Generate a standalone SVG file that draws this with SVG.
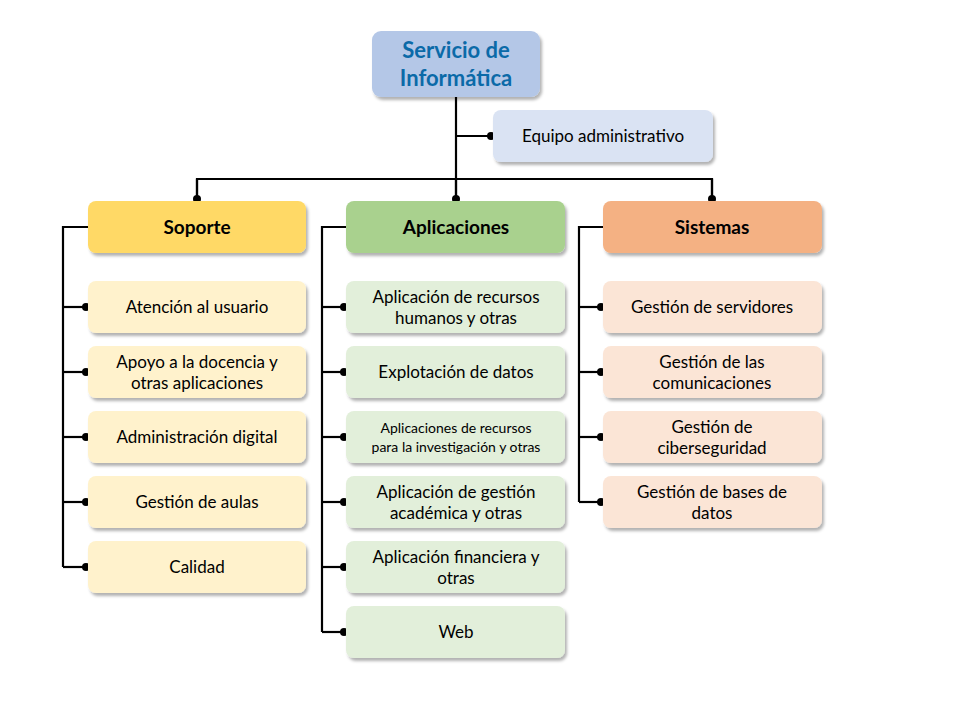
<svg xmlns="http://www.w3.org/2000/svg" width="960" height="720" viewBox="0 0 960 720">
<defs>
<filter id="sh" x="-10%" y="-10%" width="130%" height="140%"><feDropShadow dx="2" dy="3" stdDeviation="1.5" flood-color="#000" flood-opacity="0.3"/></filter>
<marker id="dot" viewBox="0 0 10 10" refX="5" refY="5" markerWidth="10" markerHeight="10" markerUnits="userSpaceOnUse"><circle cx="5" cy="5" r="4" fill="#000"/></marker>
</defs>
<style>
rect{filter:url(#sh)}
text{font-family:Lato,"Noto Sans",sans-serif;font-size:17px;fill:#000;text-anchor:middle}
.h{font-weight:bold;font-size:19px}
.t{font-weight:bold;font-size:22px;fill:#0b6aa8}
.c path{fill:none;stroke:#000;stroke-width:2.2}
.y rect{fill:#fff2cc}.g rect{fill:#e2efda}.o rect{fill:#fbe5d6}
</style>
<rect width="960" height="720" fill="#fff" style="filter:none"/>
<g class="c">
<path d="M456 97V199"/>
<path d="M456 136H491" marker-end="url(#dot)"/>
<path d="M197 199V179H712V199"/>
<path d="M197 179V199" marker-end="url(#dot)"/>
<path d="M712 179V199" marker-end="url(#dot)"/>
<path d="M456 180V199" marker-end="url(#dot)"/>
<path d="M88 227H63V567"/>
<path d="M346 227H322V632"/>
<path d="M603 227H579V502"/>
<path d="M63 307H86" marker-end="url(#dot)"/><path d="M63 372H86" marker-end="url(#dot)"/><path d="M63 437H86" marker-end="url(#dot)"/><path d="M63 502H86" marker-end="url(#dot)"/><path d="M63 567H86" marker-end="url(#dot)"/>
<path d="M322 307H344" marker-end="url(#dot)"/><path d="M322 372H344" marker-end="url(#dot)"/><path d="M322 437H344" marker-end="url(#dot)"/><path d="M322 502H344" marker-end="url(#dot)"/><path d="M322 567H344" marker-end="url(#dot)"/><path d="M322 632H344" marker-end="url(#dot)"/>
<path d="M579 307H601" marker-end="url(#dot)"/><path d="M579 372H601" marker-end="url(#dot)"/><path d="M579 437H601" marker-end="url(#dot)"/><path d="M579 502H601" marker-end="url(#dot)"/>
</g>
<g id="root"><rect x="372" y="31" width="168" height="66" rx="9" fill="#b4c7e7"/><text class="t" x="456" y="58">Servicio de</text><text class="t" x="456" y="86">Informática</text></g>
<g id="equipo"><rect x="493" y="110" width="220" height="52" rx="8" fill="#dae3f3"/><text x="603" y="142">Equipo administrativo</text></g>
<g id="soporte"><rect x="88" y="201" width="218" height="52" rx="8" fill="#ffd966"/><text class="h" x="197" y="234">Soporte</text></g>
<g id="aplicaciones"><rect x="346" y="201" width="219" height="52" rx="8" fill="#a9d18e"/><text class="h" x="456" y="234">Aplicaciones</text></g>
<g id="sistemas"><rect x="603" y="201" width="219" height="52" rx="8" fill="#f4b183"/><text class="h" x="712" y="234">Sistemas</text></g>
<g class="y">
<g id="s1"><rect x="88" y="281" width="218" height="52" rx="8"/><text x="197" y="313">Atención al usuario</text></g>
<g id="s2"><rect x="88" y="346" width="218" height="52" rx="8"/><text x="197" y="368">Apoyo a la docencia y</text><text x="197" y="389">otras aplicaciones</text></g>
<g id="s3"><rect x="88" y="411" width="218" height="52" rx="8"/><text x="197" y="443">Administración digital</text></g>
<g id="s4"><rect x="88" y="476" width="218" height="52" rx="8"/><text x="197" y="508">Gestión de aulas</text></g>
<g id="s5"><rect x="88" y="541" width="218" height="52" rx="8"/><text x="197" y="573">Calidad</text></g>
</g>
<g class="g">
<g id="a1"><rect x="346" y="281" width="219" height="52" rx="8"/><text x="456" y="303">Aplicación de recursos</text><text x="456" y="324">humanos y otras</text></g>
<g id="a2"><rect x="346" y="346" width="219" height="52" rx="8"/><text x="456" y="378">Explotación de datos</text></g>
<g id="a3"><rect x="346" y="411" width="219" height="52" rx="8"/><text x="456" y="433" style="font-size:14px">Aplicaciones de recursos</text><text x="456" y="452" style="font-size:14px">para la investigación y otras</text></g>
<g id="a4"><rect x="346" y="476" width="219" height="52" rx="8"/><text x="456" y="498">Aplicación de gestión</text><text x="456" y="519">académica y otras</text></g>
<g id="a5"><rect x="346" y="541" width="219" height="52" rx="8"/><text x="456" y="563">Aplicación financiera y</text><text x="456" y="584">otras</text></g>
<g id="a6"><rect x="346" y="606" width="219" height="52" rx="8"/><text x="456" y="638">Web</text></g>
</g>
<g class="o">
<g id="y1"><rect x="603" y="281" width="219" height="52" rx="8"/><text x="712" y="313">Gestión de servidores</text></g>
<g id="y2"><rect x="603" y="346" width="219" height="52" rx="8"/><text x="712" y="368">Gestión de las</text><text x="712" y="389">comunicaciones</text></g>
<g id="y3"><rect x="603" y="411" width="219" height="52" rx="8"/><text x="712" y="433">Gestión de</text><text x="712" y="454">ciberseguridad</text></g>
<g id="y4"><rect x="603" y="476" width="219" height="52" rx="8"/><text x="712" y="498">Gestión de bases de</text><text x="712" y="519">datos</text></g>
</g>
</svg>
